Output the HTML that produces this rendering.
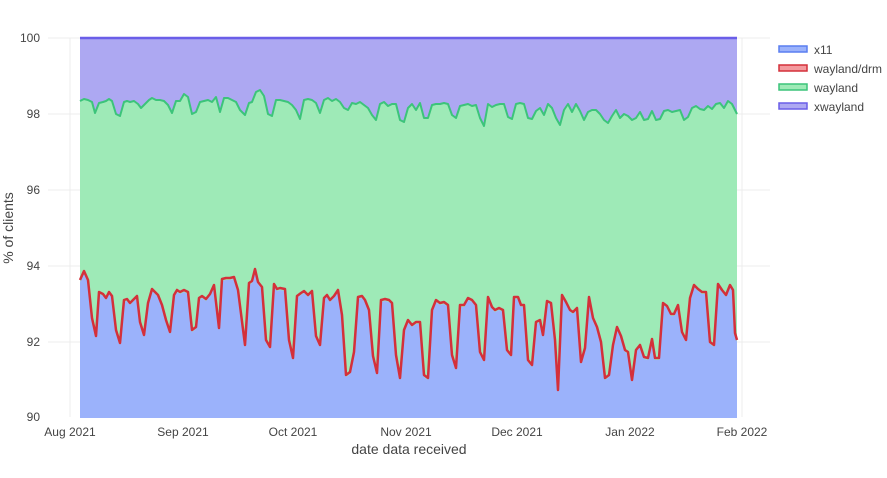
<!DOCTYPE html>
<html><head><meta charset="utf-8"><style>
body{margin:0;background:#fff;font-family:"Liberation Sans",sans-serif;}
svg text{font-family:"Liberation Sans",sans-serif;fill:#444;}
</style></head><body>
<svg width="887" height="473" xmlns="http://www.w3.org/2000/svg">
<rect width="887" height="473" fill="#fff"/>
<g stroke="#ececec" stroke-width="1">
<line x1="70" y1="38" x2="70" y2="417"/><line x1="183" y1="38" x2="183" y2="417"/><line x1="293" y1="38" x2="293" y2="417"/><line x1="406" y1="38" x2="406" y2="417"/><line x1="517" y1="38" x2="517" y2="417"/><line x1="630" y1="38" x2="630" y2="417"/><line x1="742" y1="38" x2="742" y2="417"/>
<line x1="48" y1="38" x2="770" y2="38"/><line x1="48" y1="114" x2="770" y2="114"/><line x1="48" y1="190" x2="770" y2="190"/><line x1="48" y1="266" x2="770" y2="266"/><line x1="48" y1="342" x2="770" y2="342"/>
</g>
<rect x="80" y="38" width="657" height="380" fill="#ada8f2"/>
<polygon fill="#9eeab7" points="80,101 84,99 88,100 92,102 95,113 99,103 103,102 106,101 109,99 112,101 116,114 120,116 124,102 127,101 130,102 134,101 138,104 141,108 145,104 149,100 152,98 156,100 160,100 164,101 168,105 172,113 176,101 180,101 184,94 188,97 192,114 196,112 200,102 204,101 208,100 212,102 216,97 220,112 224,98 228,98 232,100 236,102 240,110 245,115 249,103 252,102 256,92 260,90 264,96 268,114 272,116 276,100 280,100 284,101 288,102 292,105 296,110 300,119 304,100 308,99 312,100 316,103 320,113 324,100 328,98 332,101 336,99 340,102 344,108 348,110 352,103 356,104 360,102 364,105 368,108 372,115 376,120 380,104 384,102 388,106 392,104 396,104 400,120 404,122 408,108 412,104 416,110 420,103 424,118 428,118 432,105 436,104 440,104 444,103 448,104 452,115 456,118 460,106 464,105 468,104 472,106 476,105 480,118 484,126 488,104 492,107 496,105 500,104 504,104 508,117 512,119 516,104 520,103 524,104 528,118 532,119 536,111 540,108 544,115 548,104 552,108 556,118 560,125 564,110 568,104 572,112 576,104 580,111 584,120 588,112 592,110 596,110 600,114 604,120 608,123 612,116 616,110 620,118 624,114 628,116 632,120 636,118 640,112 644,120 648,119 652,111 656,120 660,119 664,111 668,110 672,112 676,111 680,110 684,120 688,117 692,108 696,106 700,109 704,110 708,106 712,109 716,104 720,103 724,108 728,101 732,104 737,114 737,418 80,418"/>
<polyline fill="none" stroke="#3cc47a" stroke-width="2" stroke-linejoin="round" points="80,101 84,99 88,100 92,102 95,113 99,103 103,102 106,101 109,99 112,101 116,114 120,116 124,102 127,101 130,102 134,101 138,104 141,108 145,104 149,100 152,98 156,100 160,100 164,101 168,105 172,113 176,101 180,101 184,94 188,97 192,114 196,112 200,102 204,101 208,100 212,102 216,97 220,112 224,98 228,98 232,100 236,102 240,110 245,115 249,103 252,102 256,92 260,90 264,96 268,114 272,116 276,100 280,100 284,101 288,102 292,105 296,110 300,119 304,100 308,99 312,100 316,103 320,113 324,100 328,98 332,101 336,99 340,102 344,108 348,110 352,103 356,104 360,102 364,105 368,108 372,115 376,120 380,104 384,102 388,106 392,104 396,104 400,120 404,122 408,108 412,104 416,110 420,103 424,118 428,118 432,105 436,104 440,104 444,103 448,104 452,115 456,118 460,106 464,105 468,104 472,106 476,105 480,118 484,126 488,104 492,107 496,105 500,104 504,104 508,117 512,119 516,104 520,103 524,104 528,118 532,119 536,111 540,108 544,115 548,104 552,108 556,118 560,125 564,110 568,104 572,112 576,104 580,111 584,120 588,112 592,110 596,110 600,114 604,120 608,123 612,116 616,110 620,118 624,114 628,116 632,120 636,118 640,112 644,120 648,119 652,111 656,120 660,119 664,111 668,110 672,112 676,111 680,110 684,120 688,117 692,108 696,106 700,109 704,110 708,106 712,109 716,104 720,103 724,108 728,101 732,104 737,114"/>
<polyline fill="none" stroke="#6a5ee8" stroke-width="2.5" points="80,38 737,38"/>
<polygon fill="#9bb2fb" points="80,282 84,273 88,282 92,320 96,338 99,294 103,296 106,300 109,294 112,298 116,332 120,345 124,302 127,301 130,305 133,302 137,298 140,324 144,337 148,305 152,291 155,294 158,297 162,307 166,322 170,334 174,297 177,292 180,294 184,292 188,294 192,332 196,329 199,300 202,298 206,301 210,296 214,287 219,330 222,281 226,280 230,280 234,279 238,292 245,347 249,285 252,283 255,271 258,284 262,289 266,342 270,349 274,286 277,291 280,290 285,291 289,342 293,360 297,298 301,295 304,293 308,297 312,293 316,338 320,347 324,300 327,297 330,302 334,298 338,292 342,317 346,377 350,374 354,354 358,299 362,298 365,302 369,312 373,358 377,375 381,302 385,301 389,302 392,305 396,357 400,380 404,332 408,322 412,327 416,324 420,324 424,377 428,380 432,312 436,302 440,305 444,304 448,307 452,357 456,370 460,307 464,307 468,300 472,302 476,307 480,354 484,362 488,299 492,309 495,312 499,310 503,312 507,352 511,357 514,299 518,299 521,307 524,307 528,362 532,367 536,324 540,322 543,337 547,303 551,305 555,342 558,392 562,297 566,304 570,312 573,314 577,310 581,364 585,350 589,299 593,320 597,329 601,344 605,380 609,377 613,347 617,329 621,338 625,352 628,354 632,382 636,352 640,347 644,359 648,360 652,341 655,360 659,360 663,305 667,308 671,316 674,316 678,307 682,334 686,342 690,300 694,287 698,291 702,294 706,294 710,344 714,347 718,286 722,292 726,297 730,287 733,292 735,335 737,342 737,418 80,418"/>
<polyline fill="none" stroke="#d4303a" stroke-width="2.5" stroke-linejoin="round" points="80,280 84,271 88,280 92,318 96,336 99,292 103,294 106,298 109,292 112,296 116,330 120,343 124,300 127,299 130,303 133,300 137,296 140,322 144,335 148,303 152,289 155,292 158,295 162,305 166,320 170,332 174,295 177,290 180,292 184,290 188,292 192,330 196,327 199,298 202,296 206,299 210,294 214,285 219,328 222,279 226,278 230,278 234,277 238,290 245,345 249,283 252,281 255,269 258,282 262,287 266,340 270,347 274,284 277,289 280,288 285,289 289,340 293,358 297,296 301,293 304,291 308,295 312,291 316,336 320,345 324,298 327,295 330,300 334,296 338,290 342,315 346,375 350,372 354,352 358,297 362,296 365,300 369,310 373,356 377,373 381,300 385,299 389,300 392,303 396,355 400,378 404,330 408,320 412,325 416,322 420,322 424,375 428,378 432,310 436,300 440,303 444,302 448,305 452,355 456,368 460,305 464,305 468,298 472,300 476,305 480,352 484,360 488,297 492,307 495,310 499,308 503,310 507,350 511,355 514,297 518,297 521,305 524,305 528,360 532,365 536,322 540,320 543,335 547,301 551,303 555,340 558,390 562,295 566,302 570,310 573,312 577,308 581,362 585,348 589,297 593,318 597,327 601,342 605,378 609,375 613,345 617,327 621,336 625,350 628,352 632,380 636,350 640,345 644,357 648,358 652,339 655,358 659,358 663,303 667,306 671,314 674,314 678,305 682,332 686,340 690,298 694,285 698,289 702,292 706,292 710,342 714,345 718,284 722,290 726,295 730,285 733,290 735,333 737,340"/>
<g font-size="12" text-anchor="end">
<text x="40" y="42">100</text><text x="40" y="118">98</text><text x="40" y="194">96</text><text x="40" y="270">94</text><text x="40" y="346">92</text><text x="40" y="421">90</text>
</g>
<g font-size="12" text-anchor="middle">
<text x="70" y="436">Aug 2021</text><text x="183" y="436">Sep 2021</text><text x="293" y="436">Oct 2021</text><text x="406" y="436">Nov 2021</text><text x="517" y="436">Dec 2021</text><text x="630" y="436">Jan 2022</text><text x="742" y="436">Feb 2022</text>
</g>
<text x="409" y="454" font-size="14" text-anchor="middle">date data received</text>
<text transform="translate(13,228) rotate(-90)" font-size="14" text-anchor="middle">% of clients</text>
<g font-size="12">
<rect x="779" y="46" width="28" height="6" fill="#9bb2fb" stroke="#5a7ef0" stroke-width="1.5"/><text x="814" y="54">x11</text>
<rect x="779" y="65" width="28" height="6" fill="#f39a9e" stroke="#d4303a" stroke-width="1.5"/><text x="814" y="73">wayland/drm</text>
<rect x="779" y="84" width="28" height="6" fill="#9eeab7" stroke="#3cc47a" stroke-width="1.5"/><text x="814" y="92">wayland</text>
<rect x="779" y="103" width="28" height="6" fill="#ada8f2" stroke="#6a5ee8" stroke-width="1.5"/><text x="814" y="111">xwayland</text>
</g>
</svg>
</body></html>
